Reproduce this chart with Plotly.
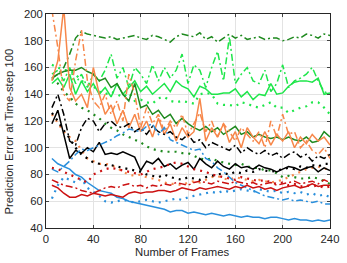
import plotly.graph_objects as go

frames = list(range(5, 241, 5))

# dark green
dkgreen_dashdot = [152,155,160,170,182,187,185,184,183,182,183,181,182,183,184,182,181,184,183,181,179,183,185,184,183,186,181,183,179,182,185,182,184,181,182,183,181,182,182,180,181,183,182,185,184,182,185,184]
dkgreen_solid = [152,155,157,158,158,160,157,155,150,152,145,148,140,135,148,130,132,125,128,122,125,118,122,118,115,113,116,112,115,110,113,116,110,112,108,110,108,107,108,106,108,106,105,108,104,105,112,108]
dkgreen_dot = [152,148,142,138,133,130,128,125,122,118,115,113,110,108,106,104,101,99,98,97,97,97,96,96,94,92,91,92,90,89,88,87,88,86,85,85,83,83,81,78,79,78,77,77,78,77,75,73]
# light green
ltgreen_dashdot = [155,158,150,160,148,155,145,155,150,158,170,152,160,145,160,155,148,162,150,160,152,158,170,148,162,158,145,160,172,150,183,148,155,160,150,148,158,142,148,162,145,150,152,155,160,150,142,140]
ltgreen_solid = [148,152,145,155,140,150,142,148,140,145,138,148,140,145,150,142,146,140,144,148,142,150,146,144,138,146,144,140,140,141,141,144,138,142,136,140,139,148,140,141,146,149,150,150,149,152,140,141]
ltgreen_dot = [162,160,158,158,155,150,148,146,142,140,142,140,138,141,135,136,134,133,137,138,135,134,135,134,133,140,141,140,133,132,132,131,134,133,131,130,132,134,130,130,126,128,130,131,134,134,130,125]
# orange
orange_dashdot = [203,175,140,135,165,188,150,135,130,140,125,135,120,155,140,115,130,118,125,112,120,115,125,110,118,126,112,120,108,118,112,105,115,110,105,112,100,120,108,125,110,112,100,105,98,95,100,92]
orange_solid = [150,165,205,145,135,140,130,160,140,125,132,118,128,115,125,112,120,108,122,110,118,105,115,108,112,137,105,115,108,118,104,112,100,115,108,103,112,102,110,105,112,100,108,103,110,105,108,102]
orange_dot = [125,118,112,108,105,98,92,90,88,88,87,85,82,80,79,80,78,77,76,74,73,73,72,74,75,74,76,78,79,77,76,78,77,76,75,76,75,74,75,76,78,80,82,84,85,86,84,85]
# black
black_dashdot = [130,140,125,105,102,115,122,120,112,118,120,116,115,118,112,115,110,116,112,110,112,108,106,110,104,106,100,104,102,100,98,102,96,100,97,95,98,94,96,92,95,97,93,95,90,94,92,95]
black_solid = [118,128,110,92,98,96,100,97,104,95,96,95,97,95,93,83,90,88,92,86,88,84,87,89,84,92,88,85,90,86,84,88,85,86,84,87,85,84,82,84,86,85,83,85,86,82,85,83]
black_dot = [126,120,113,107,100,95,92,89,88,87,87,86,85,84,83,82,80,79,78,80,78,77,76,78,77,76,78,79,80,81,80,82,81,83,82,84,83,82,83,84,85,84,86,85,87,86,88,88]
# red
red_dashdot = [76,74,72,71,70,68,67,66,68,70,71,70,72,73,71,72,70,72,71,73,72,74,73,72,74,75,74,73,75,74,73,75,74,73,74,72,73,74,72,73,74,75,73,74,75,73,76,74]
red_solid = [72,70,66,63,63,65,64,66,65,64,65,64,63,66,67,66,67,67,68,68,67,68,70,69,68,70,69,70,71,70,69,71,70,72,70,71,69,70,68,70,71,72,70,71,73,71,72,72]
red_dot = [85,84,82,80,78,76,74,80,82,84,85,84,83,82,81,80,82,84,85,86,88,89,88,86,84,83,82,80,79,78,77,76,78,77,76,75,76,74,73,74,72,73,71,72,71,72,70,71]
# blue
blue_dashdot = [84,82,86,90,95,99,98,100,102,104,106,109,111,114,113,112,116,118,110,115,106,104,102,100,98,99,92,90,85,82,78,74,72,70,68,66,64,63,62,61,62,60,61,60,59,60,58,58]
blue_solid = [92,88,86,84,80,78,74,71,68,67,66,63,62,60,59,58,57,56,55,54,52,53,53,51,52,51,50,51,50,49,50,49,48,49,48,48,47,48,48,47,46,47,46,46,45,46,45,46]
blue_dot = [62,72,78,76,74,77,70,67,64,60,59,60,61,60,59,60,61,60,59,60,61,62,61,63,64,65,66,67,66,68,67,68,69,68,67,69,68,67,68,66,67,66,67,65,66,64,65,63]

x_ticks = [0, 40, 80, 120, 160, 200, 240]
y_ticks = [40, 60, 80, 100, 120, 140, 160, 180, 200]
x_title = "Number of Frames"
y_title = "Prediction Error at Time-step 100"

C_DKG = "#1f8a1f"
C_LTG = "#1ee64a"
C_ORG = "#f7874a"
C_BLK = "#000000"
C_RED = "#cc1111"
C_BLU = "#2a8fdc"

DASHDOT = "7px,3px,2px,3px"
DOT = "2px,5px"

series = [
    (dkgreen_dashdot, C_DKG, DASHDOT, 1.5),
    (ltgreen_dashdot, C_LTG, DASHDOT, 1.5),
    (ltgreen_dot, C_LTG, DOT, 2.2),
    (ltgreen_solid, C_LTG, "solid", 1.5),
    (dkgreen_solid, C_DKG, "solid", 1.5),
    (dkgreen_dot, C_DKG, DOT, 2.2),
    (orange_dashdot, C_ORG, DASHDOT, 1.5),
    (orange_solid, C_ORG, "solid", 1.5),
    (orange_dot, C_ORG, DOT, 2.2),
    (black_dashdot, C_BLK, DASHDOT, 1.5),
    (black_solid, C_BLK, "solid", 1.5),
    (black_dot, C_BLK, DOT, 2.2),
    (blue_dashdot, C_BLU, DASHDOT, 1.5),
    (blue_solid, C_BLU, "solid", 1.5),
    (blue_dot, C_BLU, DOT, 2.2),
    (red_dashdot, C_RED, DASHDOT, 1.5),
    (red_solid, C_RED, "solid", 1.5),
    (red_dot, C_RED, DOT, 2.2),
]

fig = go.Figure()
for vals, col, dash, w in series:
    fig.add_trace(go.Scatter(x=frames, y=vals, mode="lines",
                             line=dict(color=col, dash=dash, width=w),
                             showlegend=False, hoverinfo="skip"))

font = dict(family="Liberation Sans, Arial, sans-serif", size=11.3, color="#262626")
fig.update_layout(
    width=347, height=263,
    margin=dict(l=46, r=11, t=8, b=35),
    paper_bgcolor="white", plot_bgcolor="white",
    font=font,
    annotations=[
        dict(text=x_title, xref="paper", yref="paper", x=(185 - 46) / 290, y=(228 - 253) / 220,
             xanchor="center", yanchor="middle", showarrow=False, font=font),
        dict(text=y_title, xref="paper", yref="paper", x=(8 - 46) / 290, y=(228 - 129) / 220,
             xanchor="center", yanchor="middle", showarrow=False, textangle=-90, font=font),
    ],
)
fig.update_xaxes(range=[0, 240], tickvals=x_ticks, ticks="inside", ticklen=3,
                 showline=True, linecolor="#262626", linewidth=1, mirror="ticks",
                 showgrid=True, gridcolor="#e3e3e3", gridwidth=1, zeroline=False,
                 ticklabeloverflow="allow", tickfont=font)
fig.update_yaxes(range=[40, 200], tickvals=y_ticks, ticks="inside", ticklen=3,
                 showline=True, linecolor="#262626", linewidth=1, mirror="ticks",
                 showgrid=True, gridcolor="#e3e3e3", gridwidth=1, zeroline=False,
                 ticklabeloverflow="allow", tickfont=font)

fig.write_html("out.html", config={"displayModeBar": False},
               post_script="document.body.style.margin='0';document.body.style.overflow='hidden';")
